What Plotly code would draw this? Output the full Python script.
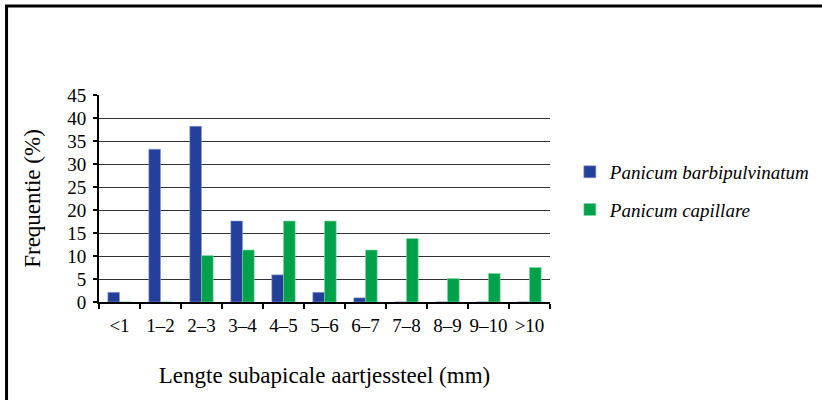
import plotly.graph_objects as go

categories = ["<1", "1–2", "2–3", "3–4", "4–5", "5–6", "6–7", "7–8", "8–9", "9–10", ">10"]
barbipulvinatum = [2.1, 33.2, 38.2, 17.6, 5.9, 2.1, 0.9, 0, 0, 0, 0]
capillare = [0, 0, 10.1, 11.3, 17.6, 17.6, 11.3, 13.8, 5.1, 6.2, 7.5]
y_ticks = [0, 5, 10, 15, 20, 25, 30, 35, 40, 45]

FONT = "Liberation Serif, Times New Roman, serif"

fig = go.Figure()
fig.add_trace(go.Bar(
    x=categories, y=barbipulvinatum, name="Panicum barbipulvinatum",
    marker=dict(color="#233f99", line=dict(color="#8a9bd0", width=0.6)),
    legendgroup="a",
))
fig.add_trace(go.Bar(
    x=categories, y=capillare, name="Panicum capillare",
    marker=dict(color="#00a14b", line=dict(color="#7fd6a2", width=0.6)),
    legendgroup="b",
))

fig.update_layout(
    template="none",
    width=822, height=400,
    margin=dict(l=99, r=272, t=95, b=98, autoexpand=False),
    paper_bgcolor="white", plot_bgcolor="white",
    barmode="group", bargap=0.43, bargroupgap=0,
    font=dict(family=FONT, size=19, color="black"),
    showlegend=True,
    legend=dict(
        x=1.044, y=0.72, xanchor="left", yanchor="top",
        font=dict(family=FONT, size=19, style="italic"),
        traceorder="grouped", tracegroupgap=10,
        bgcolor="rgba(0,0,0,0)",
    ),
    xaxis=dict(
        type="category",
        showline=True, linecolor="black", linewidth=2,
        ticks="outside", tickson="boundaries", ticklen=5, tickwidth=2, tickcolor="black",
        showgrid=False, tickangle=0, ticklabelstandoff=5,
        tickfont=dict(family=FONT, size=19),
        title=dict(text="Lengte subapicale aartjessteel (mm)", font=dict(family=FONT, size=23), standoff=32),
    ),
    yaxis=dict(
        range=[0, 45], tickvals=y_ticks,
        showline=True, linecolor="black", linewidth=2,
        ticks="outside", ticklen=4, tickwidth=2, tickcolor="black",
        showgrid=True, gridcolor="#333333", gridwidth=1.2,
        zeroline=False, ticklabelstandoff=3,
        tickfont=dict(family=FONT, size=19),
        title=dict(text="Frequentie (%)", font=dict(family=FONT, size=23), standoff=20),
    ),
)

# outer frame (extends beyond right and bottom edges, as in reference)
fig.add_shape(type="rect", xref="paper", yref="paper",
              x0=-0.205, x1=1.8, y0=-0.8, y1=1.43,
              line=dict(color="black", width=3), fillcolor="rgba(0,0,0,0)", layer="below")

fig.write_html("out.html", config={"displayModeBar": False},
               post_script="document.body.style.margin='0';document.body.style.overflow='hidden';")
